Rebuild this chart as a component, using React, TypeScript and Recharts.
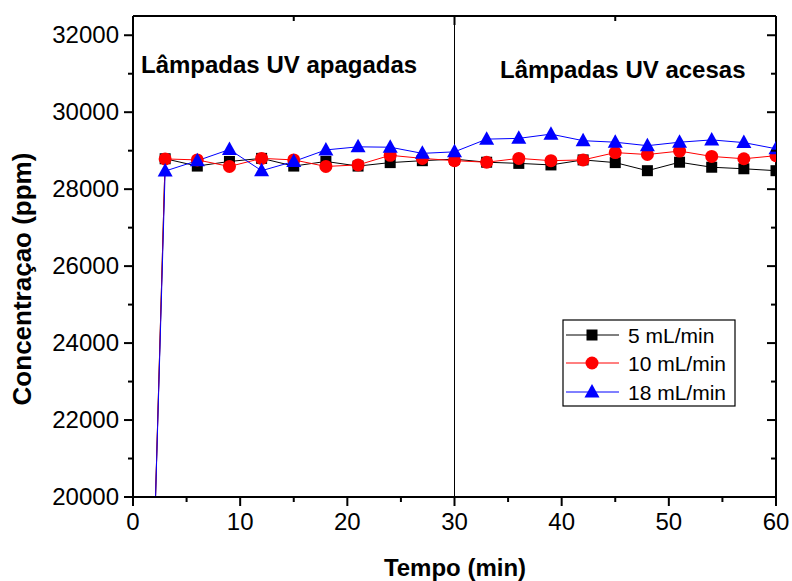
import { LineChart, Line, XAxis, YAxis, ReferenceLine } from "recharts";

const TIME = [2, 3, 6, 9, 12, 15, 18, 21, 24, 27, 30, 33, 36, 39, 42, 45, 48, 51, 54, 57, 60];
const FLOW_5 = [19000, 28790, 28600, 28720, 28800, 28600, 28720, 28600, 28690, 28740, 28780, 28700, 28670, 28630, 28760, 28690, 28480, 28700, 28570, 28530, 28480];
const FLOW_10 = [19000, 28786, 28760, 28590, 28800, 28760, 28590, 28630, 28880, 28800, 28740, 28700, 28800, 28740, 28760, 28950, 28900, 28990, 28850, 28790, 28870];
const FLOW_18 = [19000, 28470, 28740, 29030, 28480, 28720, 29020, 29100, 29090, 28930, 28970, 29300, 29320, 29430, 29260, 29220, 29130, 29220, 29280, 29210, 29050];
const SERIES_NAMES = ["5 mL/min", "10 mL/min", "18 mL/min"];
const X_TICKS = [0, 5, 10, 15, 20, 25, 30, 35, 40, 45, 50, 55, 60];
const Y_TICKS = [20000, 21000, 22000, 23000, 24000, 25000, 26000, 27000, 28000, 29000, 30000, 31000, 32000];

const data = TIME.map((t, i) => ({ t, a: FLOW_5[i], b: FLOW_10[i], c: FLOW_18[i] }));

const FONT = '"Liberation Sans", Arial, sans-serif';
const axisLine = { stroke: "#000", strokeWidth: 2 };

function BottomTick({ x, y, payload }: any) {
  const major = payload.value % 10 === 0;
  return (
    <g>
      <line x1={x} x2={x} y1={y} y2={y + (major ? 9 : 5)} stroke="#000" strokeWidth={2} />
      {major && (
        <text x={x} y={y + 33} textAnchor="middle" fontSize={24} fontFamily={FONT} fill="#000">
          {payload.value}
        </text>
      )}
    </g>
  );
}

function TopTick({ x, y, payload }: any) {
  const major = payload.value % 10 === 0;
  return <line x1={x} x2={x} y1={y} y2={y + (major ? 9 : 5)} stroke="#000" strokeWidth={2} />;
}

function LeftTick({ x, y, payload }: any) {
  const major = payload.value % 2000 === 0;
  return (
    <g>
      <line x1={x - (major ? 9 : 5)} x2={x} y1={y} y2={y} stroke="#000" strokeWidth={2} />
      {major && (
        <text x={x - 14} y={y + 8} textAnchor="end" fontSize={24} fontFamily={FONT} fill="#000">
          {payload.value}
        </text>
      )}
    </g>
  );
}

function RightTick({ x, y, payload }: any) {
  const major = payload.value % 2000 === 0;
  return <line x1={x - (major ? 9 : 5)} x2={x} y1={y} y2={y} stroke="#000" strokeWidth={2} />;
}

function Square({ cx, cy, size = 11 }: any) {
  if (cx == null || cy == null) return <g />;
  return <rect x={cx - size / 2} y={cy - size / 2} width={size} height={size} fill="#000" />;
}

function Circle({ cx, cy }: any) {
  if (cx == null || cy == null) return <g />;
  return <circle cx={cx} cy={cy} r={6.5} fill="#ff0000" />;
}

function Triangle({ cx, cy }: any) {
  if (cx == null || cy == null) return <g />;
  return <path d={`M${cx},${cy - 8} L${cx + 7.5},${cy + 5.5} L${cx - 7.5},${cy + 5.5} Z`} fill="#0000ff" />;
}

const COLORS = ["#000", "#ff0000", "#0000ff"];
const MARKERS = [Square, Circle, Triangle];

function LegendBox() {
  const rows = [335, 363, 392];
  return (
    <g>
      <rect x={563} y={320} width={172} height={86} fill="#fff" stroke="#000" strokeWidth={1.2} />
      {SERIES_NAMES.map((name, i) => {
        const M = MARKERS[i];
        return (
          <g key={name}>
            <line x1={566} x2={619} y1={rows[i]} y2={rows[i]} stroke={COLORS[i]} strokeWidth={1} />
            <M cx={592} cy={rows[i]} />
            <text x={628} y={rows[i] + 8} fontSize={21} fontFamily={FONT} fill="#000">
              {name}
            </text>
          </g>
        );
      })}
    </g>
  );
}

export default function App() {
  return (
    <div style={{ position: "absolute", left: 0, top: 0, background: "#fff" }}>
      <LineChart width={792} height={581} data={data} margin={{ top: 0, right: 0, bottom: 0, left: 0 }}>
        <XAxis
          xAxisId="b"
          dataKey="t"
          type="number"
          domain={[0, 60]}
          ticks={X_TICKS}
          interval={0}
          height={84}
          tickSize={0}
          tickMargin={0}
          tickLine={false}
          axisLine={axisLine}
          tick={BottomTick}
          allowDataOverflow
        />
        <XAxis
          xAxisId="t"
          orientation="top"
          type="number"
          domain={[0, 60]}
          ticks={X_TICKS}
          interval={0}
          height={16}
          tickSize={0}
          tickMargin={0}
          tickLine={false}
          axisLine={axisLine}
          tick={TopTick}
          allowDataOverflow
        />
        <YAxis
          yAxisId="l"
          type="number"
          domain={[20000, 32500]}
          ticks={Y_TICKS}
          interval={0}
          width={133}
          tickSize={0}
          tickMargin={0}
          tickLine={false}
          axisLine={axisLine}
          tick={LeftTick}
          allowDataOverflow
        />
        <YAxis
          yAxisId="r"
          orientation="right"
          type="number"
          domain={[20000, 32500]}
          ticks={Y_TICKS}
          interval={0}
          width={16}
          tickSize={0}
          tickMargin={0}
          tickLine={false}
          axisLine={axisLine}
          tick={RightTick}
          allowDataOverflow
        />
        <ReferenceLine xAxisId="b" yAxisId="l" x={30} stroke="#000" strokeWidth={1} />
        <Line xAxisId="b" yAxisId="l" type="linear" dataKey="a" stroke="#000" strokeWidth={1} dot={Square} isAnimationActive={false} />
        <Line xAxisId="b" yAxisId="l" type="linear" dataKey="b" stroke="#ff0000" strokeWidth={1} dot={Circle} isAnimationActive={false} />
        <Line xAxisId="b" yAxisId="l" type="linear" dataKey="c" stroke="#0000ff" strokeWidth={1} dot={Triangle} isAnimationActive={false} />
        <text x={141} y={73} fontSize={24} fontWeight="bold" fontFamily={FONT} fill="#000">
          Lâmpadas UV apagadas
        </text>
        <text x={500} y={78} fontSize={24} fontWeight="bold" fontFamily={FONT} fill="#000">
          Lâmpadas UV acesas
        </text>
        <text x={455} y={576} textAnchor="middle" fontSize={24} fontWeight="bold" fontFamily={FONT} fill="#000">
          Tempo (min)
        </text>
        <text transform="translate(31,279) rotate(-90)" textAnchor="middle" fontSize={26} fontWeight="bold" fontFamily={FONT} fill="#000">
          Concentraçao (ppm)
        </text>
        <LegendBox />
      </LineChart>
    </div>
  );
}
